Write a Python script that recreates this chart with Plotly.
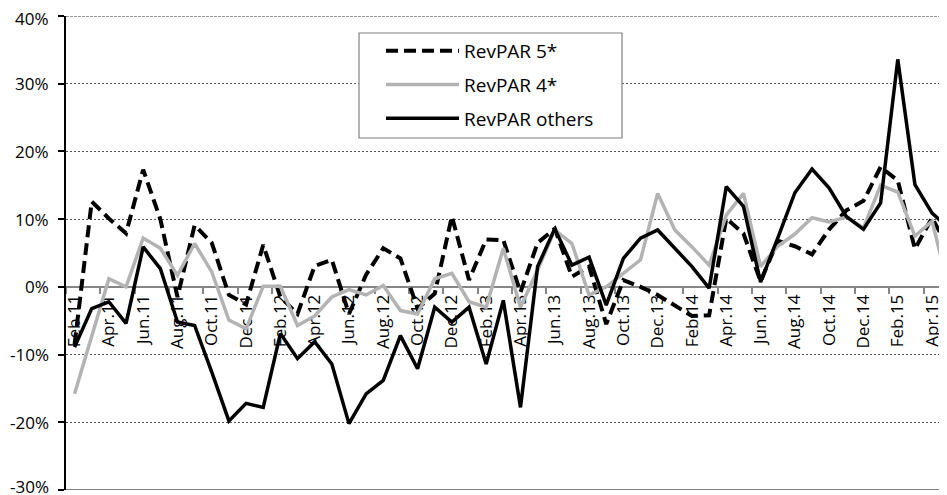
import plotly.graph_objects as go

months = ["Feb.11","Mar.11","Apr.11","May.11","Jun.11","Jul.11","Aug.11","Sep.11","Oct.11","Nov.11","Dec.11",
          "Jan.12","Feb.12","Mar.12","Apr.12","May.12","Jun.12","Jul.12","Aug.12","Sep.12","Oct.12","Nov.12","Dec.12",
          "Jan.13","Feb.13","Mar.13","Apr.13","May.13","Jun.13","Jul.13","Aug.13","Sep.13","Oct.13","Nov.13","Dec.13",
          "Jan.14","Feb.14","Mar.14","Apr.14","May.14","Jun.14","Jul.14","Aug.14","Sep.14","Oct.14","Nov.14","Dec.14",
          "Jan.15","Feb.15","Mar.15","Apr.15","May.15"]

revpar5 = [-8.5, 12.6, 10.1, 7.9, 17.3, 10.0, -1.5, 9.1, 6.5, -1.2, -2.6,
           6.2, -1.5, -4.0, 3.1, 4.0, -4.0, 1.8, 5.7, 4.2, -3.2, -1.0, 10.4,
           1.0, 7.0, 6.9, -0.8, 6.5, 8.6, 1.5, 3.0, -5.5, 1.0, 0.0, -1.2,
           -2.8, -4.3, -4.2, 10.1, 7.9, 0.8, 6.8, 6.0, 4.8, 8.5, 11.3, 12.7,
           17.7, 15.7, 5.6, 10.2, 5.5]

revpar4 = [-15.8, -7.2, 1.2, 0.0, 7.2, 5.7, 1.7, 6.4, 2.2, -4.9, -6.2,
           0.1, 0.1, -5.7, -4.3, -1.5, -0.4, -1.2, 0.2, -3.5, -4.0, 1.2, 2.0,
           -2.2, -3.0, 5.7, -3.0, 2.5, 8.4, 6.4, -1.2, 0.0, 2.0, 4.0, 13.8,
           8.4, 5.9, 3.2, 10.6, 13.8, 3.0, 6.0, 7.8, 10.2, 9.6, 10.3, 8.7,
           15.0, 14.0, 7.5, 9.7, -0.5]

revpar_others = [-8.9, -3.2, -2.2, -5.4, 5.9, 2.7, -5.2, -5.7, -12.6, -19.8, -17.2,
                 -17.8, -6.9, -10.6, -8.1, -11.4, -20.2, -15.8, -13.8, -7.2, -12.1, -3.0, -5.2,
                 -3.0, -11.4, -2.0, -17.8, 3.0, 8.6, 3.2, 4.4, -2.7, 4.2, 7.2, 8.4,
                 5.7, 3.0, -0.2, 14.8, 11.9, 0.7, 7.2, 13.9, 17.4, 14.6, 10.4, 8.5,
                 12.4, 33.6, 15.1, 10.9, 8.6]

y_tick_vals = [-30, -20, -10, 0, 10, 20, 30, 40]
y_tick_text = ["-30%", "-20%", "-10%", "0%", "10%", "20%", "30%", "40%"]

x_idx = list(range(len(months)))
x_label_idx = x_idx[::2]
x_label_text = months[::2]

FONT = "Open Sans, Noto Sans, sans-serif"

fig = go.Figure()
fig.add_trace(go.Scatter(x=x_idx, y=revpar5, mode="lines", name="RevPAR 5*",
                         legendgroup="a",
                         line=dict(color="black", width=4, dash="12px,6px")))
fig.add_trace(go.Scatter(x=x_idx, y=revpar4, mode="lines", name="RevPAR 4*",
                         legendgroup="b",
                         line=dict(color="#b3b3b3", width=3.5)))
fig.add_trace(go.Scatter(x=x_idx, y=revpar_others, mode="lines", name="RevPAR others",
                         legendgroup="c",
                         line=dict(color="black", width=3.5)))

# page body has an 8px offset, so the figure is drawn from (8, 8)
OFF = 8
W, H = 947 - OFF, 495 - OFF
PL, PR, PT, PB = 66, 947, 16, 490          # plot area in reference pixels
L, R, T, B = PL - OFF, 0, PT - OFF, 495 - PB
pw, ph = PR - PL, PB - PT

def px(xp):
    return (xp - PL) / pw

def py(yp):
    return (PB - yp) / ph

fig.update_layout(
    width=W, height=H,
    margin=dict(l=L, r=R, t=T, b=B, pad=0),
    paper_bgcolor="white", plot_bgcolor="white",
    font=dict(family=FONT, color="black", size=17),
    showlegend=True,
    legend=dict(x=px(381), y=py(32), xanchor="left", yanchor="top",
                bgcolor="rgba(0,0,0,0)", borderwidth=0,
                font=dict(size=19, family=FONT, color="black"),
                itemwidth=73, tracegroupgap=6, traceorder="grouped"),
    xaxis=dict(range=[-0.5, -0.5 + pw / 17.15],
               anchor="free", position=30 / 70,
               showline=True, linecolor="#868686", linewidth=2,
               tickmode="array", tickvals=x_label_idx, ticktext=x_label_text,
               tickangle=-90, ticks="", showgrid=False, zeroline=False,
               tickfont=dict(size=17, family=FONT, color="black"),
               layer="below traces",
               minor=dict(tick0=-0.5, dtick=2, ticks="outside", ticklen=6,
                          tickcolor="#868686", tickwidth=2, showgrid=False)),
    yaxis=dict(range=[-30, 40], tickmode="array", tickvals=y_tick_vals,
               showticklabels=False,
               showline=True, linecolor="black", linewidth=2,
               ticks="outside", ticklen=6, tickcolor="black", tickwidth=1.5,
               showgrid=True, gridcolor="#555555", gridwidth=1, griddash="2px,2px",
               zeroline=False),
)

# y-axis labels (as text next to the axis, so the edge labels are not dropped)
shifts = {-30: 4, 40: -2}
for v, t in zip(y_tick_vals, y_tick_text):
    fig.add_annotation(x=px(50), xref="paper", y=v, yref="y", text=t,
                       showarrow=False, xanchor="right", yanchor="middle",
                       borderpad=0, yshift=shifts.get(v, 0),
                       font=dict(size=17, family=FONT, color="black"))

# top gridline at 40% and bottom boundary line at -30%
fig.add_shape(type="line", xref="paper", yref="y", x0=0, x1=1, y0=40, y1=40,
              line=dict(color="#333333", width=1, dash="3px,1px"), layer="below")
fig.add_shape(type="line", xref="paper", yref="y", x0=0, x1=1, y0=-30, y1=-30,
              line=dict(color="black", width=1), layer="below")
# legend frame
fig.add_shape(type="rect", xref="paper", yref="paper",
              x0=px(359), x1=px(622), y0=py(138), y1=py(33),
              fillcolor="white", line=dict(color="#808080", width=1.2), layer="above")

fig.write_html("out.html")
